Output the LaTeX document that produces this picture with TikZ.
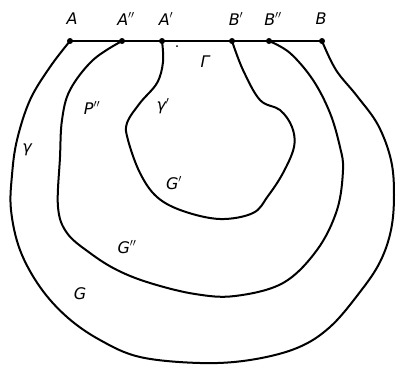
\documentclass[tikz,border=0pt]{standalone}
\usepackage{fontspec}
\newfontfamily\lblfont{DejaVu Sans}
\begin{document}
\begin{tikzpicture}[x=1pt,y=-1pt,
  curve/.style={line width=2pt,line join=round,line cap=round},
  lbl/.style={font=\fontsize{16}{19}\selectfont\lblfont\itshape,inner sep=0pt},
  pt/.style={circle,fill=black,inner sep=0pt,minimum size=6pt}]
\useasboundingbox (0,0) rectangle (397,365);
\node[pt] (A) at (70,41) {};
\node[pt] (A2) at (122,41) {};
\node[pt] (A1) at (162,41) {};
\node[pt] (B1) at (232,41) {};
\node[pt] (B2) at (269,41) {};
\node[pt] (B) at (322,41) {};
\draw[curve] (A.center) -- (B.center);
% labels
\node[lbl] at (72,19) {A};
\node[lbl] at (126,19) {A$''$};
\node[lbl] at (166,19) {A$'$};
\node[lbl] at (236,19) {B$'$};
\node[lbl] at (273,19) {B$''$};
\node[lbl] at (321,19) {B};
\fill (177,46) circle (1pt);
\node[lbl] at (205,62) {Γ};
\node[lbl] at (27,150) {γ};
\node[lbl] at (92,108) {P$''$};
\node[lbl] at (163,106) {γ$'$};
\node[lbl] at (174,183) {G$'$};
\node[lbl] at (127,247) {G$''$};
\node[lbl] at (80,294) {G};
% outer curve G
\draw[curve] plot[smooth,tension=0.6] coordinates {
 (70,41) (50,67) (30,100) (17,140) (12,175) (11,210) (20,250) (40,287) (67,317) (100,340) (140,357) (200,363) (250,360) (297,348) (330,327) (360,292) (380,262) (391,230) (394,195) (391,160) (378,125) (357,96) (336,70) (322,41)};
% middle curve G''
\draw[curve] plot[smooth,tension=0.6] coordinates {
 (122,41) (93,60) (70,90) (62,120) (60,157) (58,207) (67,233) (90,253) (117,270) (150,283) (195,294) (235,296) (283,283) (317,250) (337,210) (343,170) (340,147) (330,113) (313,80) (290,53) (269,41)};
% inner curve G'
\draw[curve] plot[smooth,tension=0.6] coordinates {
 (162,41) (163,62) (157,83) (140,103) (127,123) (128,140) (140,173) (157,197) (183,211) (220,219) (253,213) (268,196) (283,173) (294,147) (292,127) (280,110) (260,100) (243,70) (232,41)};
\end{tikzpicture}
\end{document}
